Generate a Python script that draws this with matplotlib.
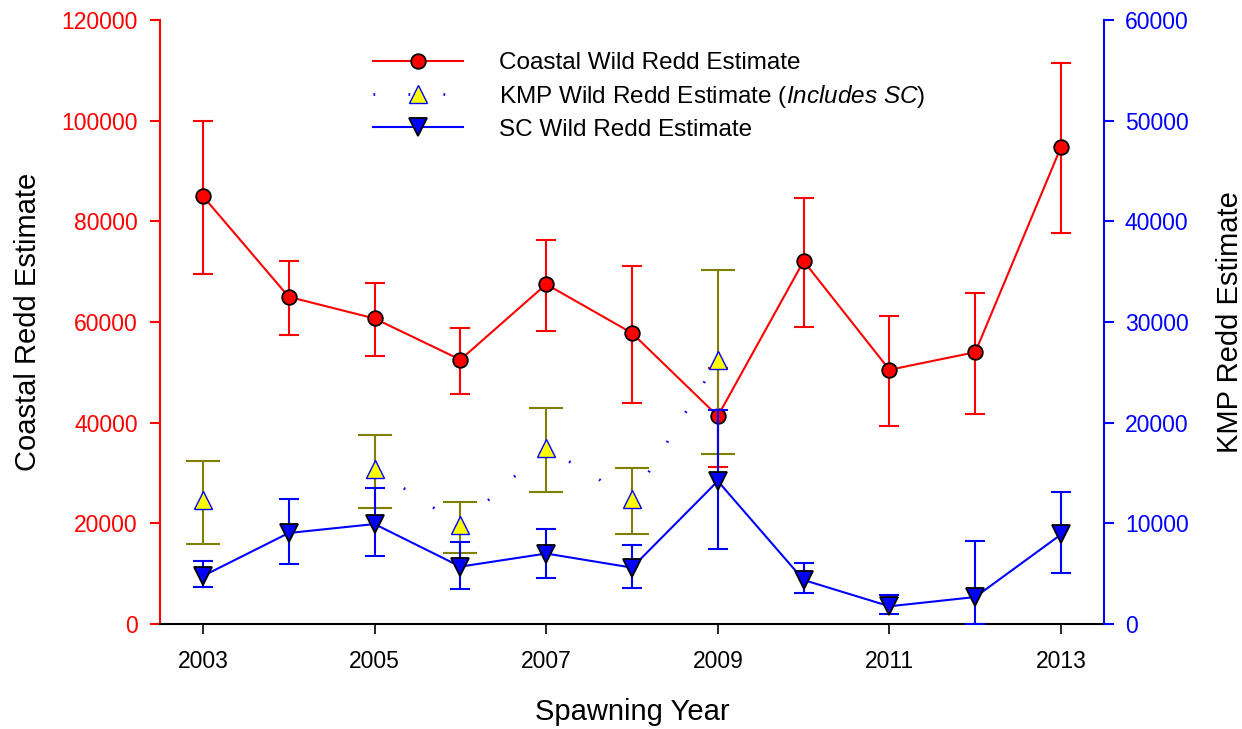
import numpy as np
import matplotlib
matplotlib.use("Agg")
import matplotlib.pyplot as plt
from matplotlib.ticker import MultipleLocator

plt.rcParams['font.family'] = ['Liberation Sans', 'DejaVu Sans']
plt.rcParams['mathtext.fontset'] = 'custom'
plt.rcParams['mathtext.rm'] = 'Liberation Sans'
plt.rcParams['mathtext.it'] = 'Liberation Sans:italic'

# ---- data ----
years = [2003, 2004, 2005, 2006, 2007, 2008, 2009, 2010, 2011, 2012, 2013]
coastal = [85000, 65000, 60700, 52500, 67500, 57800, 41300, 72100, 50500, 54000, 94800]
coastal_upper = [100000, 72100, 67800, 58900, 76200, 71100, 50900, 84600, 61200, 65800, 111500]
coastal_lower = [69600, 57400, 53200, 45600, 58200, 44000, 31100, 59000, 39300, 41800, 77700]

kmp_years = [2003, 2004, 2005, 2006, 2007, 2008, 2009]
kmp = [12300, np.nan, 15400, 9800, 17500, 12400, 26200]
kmp_upper = [16200, np.nan, 18800, 12100, 21500, 15500, 35200]
kmp_lower = [7900, np.nan, 11500, 7100, 13100, 8900, 16900]

sc = [4770, 9040, 9930, 5700, 7000, 5600, 14200, 4370, 1760, 2680, 8900]
sc_upper = [6260, 12400, 13500, 8100, 9400, 7800, 21300, 6100, 2900, 8200, 13100]
sc_lower = [3700, 6000, 6800, 3500, 4600, 3600, 7500, 3050, 1000, 0, 5100]

labels = ["Coastal Wild Redd Estimate",
          r"KMP Wild Redd Estimate ($\mathit{Includes\ SC)}$",
          "SC Wild Redd Estimate"]

# ---- figure ----
fig = plt.figure(figsize=(12.42, 7.29), dpi=100)
ax = fig.add_axes([160/1242, 1-624/729, (1104-160)/1242, (624-20)/729])
ax2 = ax.twinx()

OLIVE = '#808000'

def err(vals, lo, hi):
    v = np.array(vals, float)
    return np.vstack([v - np.array(lo, float), np.array(hi, float) - v])

# coastal on left axis
ax.errorbar(years, coastal, yerr=err(coastal, coastal_lower, coastal_upper),
            fmt='none', ecolor='red', elinewidth=1.5, capsize=7, capthick=1.5, zorder=2)
h1, = ax.plot(years, coastal, color='red', lw=1.5, marker='o', ms=10.5,
              mfc='red', mec='black', mew=1.3, zorder=3, label=labels[0])

# KMP and SC on right axis
ax2.errorbar(kmp_years, kmp, yerr=err(kmp, kmp_lower, kmp_upper),
             fmt='none', ecolor=OLIVE, elinewidth=1.5, capsize=12, capthick=1.5, zorder=2)
h2, = ax2.plot(kmp_years, kmp, color='blue', lw=2, linestyle=(0, (0.6, 12)),
               marker='^', ms=12.5, mfc='yellow', mec='blue', mew=1.0, zorder=3,
               label=labels[1])
ax2.errorbar(years, sc, yerr=err(sc, sc_lower, sc_upper),
             fmt='none', ecolor='blue', elinewidth=1.5, capsize=7, capthick=1.5, zorder=2)
h3, = ax2.plot(years, sc, color='blue', lw=1.5, marker='v', ms=12.5,
               mfc='blue', mec='black', mew=1.3, zorder=3, label=labels[2])

# axes limits & ticks
ax.set_xlim(2002.5, 2013.5)
ax.set_ylim(0, 120000)
ax2.set_ylim(0, 60000)
ax.set_xticks([2003, 2005, 2007, 2009, 2011, 2013])
ax.yaxis.set_major_locator(MultipleLocator(20000))
ax2.yaxis.set_major_locator(MultipleLocator(10000))

for a in (ax, ax2):
    a.spines['top'].set_visible(False)
ax.spines['right'].set_visible(False)
ax2.spines['left'].set_visible(False)
ax2.spines['bottom'].set_visible(False)
ax.spines['left'].set_color('red')
ax2.spines['right'].set_color('blue')
for s in ('left', 'bottom'):
    ax.spines[s].set_linewidth(1.5)
ax2.spines['right'].set_linewidth(1.5)

ax.tick_params(axis='y', colors='red', labelsize=16.5, direction='out', length=7, width=1.5, pad=9)
ax.tick_params(axis='x', colors='black', labelsize=16.5, direction='out', length=7, width=1.2, pad=12)
ax2.tick_params(axis='y', colors='blue', labelsize=16.5, direction='out', length=7, width=1.5, pad=8)

ax.set_xlabel("Spawning Year", fontsize=21, labelpad=18)
ax.set_ylabel("Coastal Redd Estimate", fontsize=21, labelpad=14)
ax2.set_ylabel("KMP Redd Estimate", fontsize=21, labelpad=20, rotation=90)

leg = ax2.legend(handles=[h1, h2, h3], labels=labels, loc='upper left',
                 bbox_to_anchor=((373-160)/944, (624-52)/604), frameon=False,
                 fontsize=17.5, handlelength=3.7, handletextpad=1.5,
                 labelspacing=0.36, borderpad=0, borderaxespad=0)

fig.savefig("out.png", dpi=100)
